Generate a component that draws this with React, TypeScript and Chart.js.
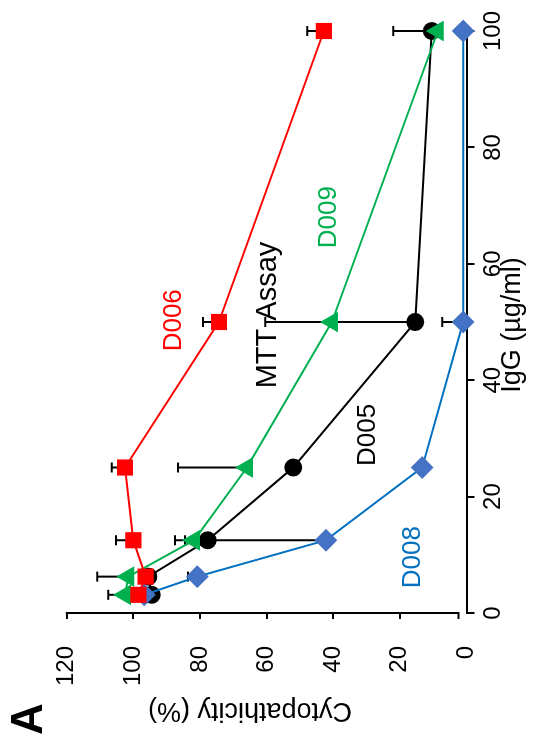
import React, { useEffect, useRef } from "react";
import { Chart, registerables } from "chart.js";

Chart.register(...registerables);

const FONT = '"Liberation Sans", Arial, Helvetica, sans-serif';

// IgG concentration (µg/ml)
const iggConc = [3.125, 6.25, 12.5, 25, 50, 100];

// Cytopathicity (%) per antibody
const d006 = [98.5, 96.3, 100, 102.5, 74.3, 42.8];
const d006Err = [0, 0, 5.2, 4, 4.8, 5];
const d008 = [96.7, 80.8, 42.2, 13.3, 1, 1];
const d008Err = [0, 2.8, 42.3, 0, 6.3, 0];
const d009 = [102.5, 101.5, 81.8, 65.9, 40.4, 8.6];
const d009Err = [5, 9.3, 5.7, 20.7, 0, 0];
const d005 = [94.5, 95.5, 77.7, 52, 15.4, 10.4];
const d005Err = [0, 0, 0, 1.8, 45, 11.6];

const seriesNames = ["D006", "D008", "D009", "D005"];

const xTickValues = [0, 20, 40, 60, 80, 100];
const yTickValues = [0, 20, 40, 60, 80, 100, 120];

const chartTitle = "MTT Assay";
const xTitle = "IgG (µg/ml)";
const yTitle = "Cytopathicity (%)";
const panelLetter = "A";

export default function App() {
  const ref = useRef<HTMLCanvasElement>(null);

  useEffect(() => {
    const canvas = ref.current;
    if (!canvas) return;

    const errSets = [d006Err, d008Err, d009Err, d005Err];
    const toPts = (arr: number[]) => arr.map((v, i) => ({ x: iggConc[i], y: v }));

    const labelAnchors = [
      { text: seriesNames[0], color: "#FF0000", x: 50.3, y: 87.8, size: 26 },
      { text: seriesNames[2], color: "#00B050", x: 68, y: 41.3, size: 26 },
      { text: seriesNames[3], color: "#000000", x: 30.6, y: 29.6, size: 26 },
      { text: seriesNames[1], color: "#0070C0", x: 9.6, y: 16, size: 26 },
      { text: chartTitle, color: "#000000", x: 51.2, y: 59.5, size: 29 },
    ];

    const errPlugin = {
      id: "errbars",
      beforeDatasetsDraw(chart: any) {
        const { ctx } = chart;
        const x = chart.scales.x;
        const y = chart.scales.y;
        ctx.save();
        ctx.strokeStyle = "#000";
        ctx.lineWidth = 2;
        chart.data.datasets.forEach((ds: any, di: number) => {
          const errs = errSets[di];
          ds.data.forEach((p: any, i: number) => {
            const e = errs[i];
            if (!e) return;
            const px = x.getPixelForValue(p.x);
            const y0 = y.getPixelForValue(p.y);
            const y1 = y.getPixelForValue(p.y + e);
            ctx.beginPath();
            ctx.moveTo(px, y0);
            ctx.lineTo(px, y1);
            ctx.moveTo(px - 5, y1);
            ctx.lineTo(px + 5, y1);
            ctx.stroke();
          });
        });
        ctx.restore();
      },
    };

    const decoPlugin = {
      id: "deco",
      afterDraw(chart: any) {
        const { ctx, chartArea } = chart;
        const x = chart.scales.x;
        const y = chart.scales.y;
        ctx.save();
        // y axis line (ends short of the corner, with its own end tick)
        const yb = y.getPixelForValue(0) - 8;
        ctx.strokeStyle = "#000";
        ctx.lineWidth = 2;
        ctx.beginPath();
        ctx.moveTo(chartArea.left, y.getPixelForValue(120) - 1);
        ctx.lineTo(chartArea.left, yb);
        ctx.lineTo(chartArea.left - 6, yb);
        ctx.stroke();

        ctx.textAlign = "center";
        ctx.textBaseline = "middle";
        labelAnchors.forEach((a) => {
          ctx.fillStyle = a.color;
          ctx.font = `${a.size}px ${FONT}`;
          ctx.fillText(a.text, x.getPixelForValue(a.x), y.getPixelForValue(a.y));
        });

        ctx.fillStyle = "#000";
        ctx.font = `27px ${FONT}`;
        ctx.fillText(xTitle, 424, 513);

        ctx.save();
        ctx.translate(39, 250);
        ctx.rotate(-Math.PI / 2);
        ctx.fillText(yTitle, 0, 0);
        ctx.restore();

        ctx.font = `bold 44px ${FONT}`;
        ctx.fillText(panelLetter, 30, 30);
        ctx.restore();
      },
    };

    const chart = new Chart(canvas, {
      type: "scatter",
      data: {
        datasets: [
          {
            label: seriesNames[0],
            data: toPts(d006),
            showLine: true,
            borderColor: "#FF0000",
            backgroundColor: "#FF0000",
            pointBackgroundColor: "#FF0000",
            pointBorderColor: "#FF0000",
            pointStyle: "rect",
            pointRadius: 10,
            borderWidth: 2,
            order: 1,
            clip: false,
          },
          {
            label: seriesNames[1],
            data: toPts(d008),
            showLine: true,
            borderColor: "#0070C0",
            backgroundColor: "#4472C4",
            pointBackgroundColor: "#4472C4",
            pointBorderColor: "#4472C4",
            pointStyle: "rectRot",
            pointRadius: 10,
            borderWidth: 2,
            order: 2,
            clip: false,
          },
          {
            label: seriesNames[2],
            data: toPts(d009),
            showLine: true,
            borderColor: "#00B050",
            backgroundColor: "#00B050",
            pointBackgroundColor: "#00B050",
            pointBorderColor: "#00B050",
            pointStyle: "triangle",
            pointRadius: 10,
            borderWidth: 2,
            order: 3,
            clip: false,
          },
          {
            label: seriesNames[3],
            data: toPts(d005),
            showLine: true,
            borderColor: "#000000",
            backgroundColor: "#000000",
            pointBackgroundColor: "#000000",
            pointBorderColor: "#000000",
            pointStyle: "circle",
            pointRadius: 8,
            borderWidth: 2,
            order: 4,
            clip: false,
          },
        ],
      },
      options: {
        animation: false,
        responsive: false,
        devicePixelRatio: 1,
        layout: { padding: { top: 66.7, right: 31, left: 0, bottom: 0 } },
        plugins: {
          legend: { display: false },
          tooltip: { enabled: false },
          title: { display: false },
        },
        scales: {
          x: {
            type: "linear",
            position: "bottom",
            min: 0,
            max: 100,
            afterBuildTicks: (s: any) => {
              s.ticks = xTickValues.map((v) => ({ value: v }));
            },
            afterFit: (s: any) => {
              s.height = 77.5;
            },
            grid: {
              drawOnChartArea: false,
              drawTicks: true,
              tickLength: 8,
              lineWidth: 2,
              color: "#000",
            },
            border: { display: true, color: "#000", width: 2 },
            ticks: {
              color: "#000",
              font: { family: FONT, size: 24 },
              padding: 4,
              maxRotation: 0,
              autoSkip: false,
            },
          },
          y: {
            type: "linear",
            min: 0,
            max: 120,
            afterBuildTicks: (s: any) => {
              s.ticks = yTickValues.map((v) => ({ value: v }));
            },
            afterFit: (s: any) => {
              s.width = 136;
            },
            grid: {
              drawOnChartArea: false,
              drawTicks: true,
              tickLength: 6,
              lineWidth: 2,
              color: (c: any) => (c.tick && c.tick.value === 0 ? "rgba(0,0,0,0)" : "#000"),
            },
            border: { display: false },
            ticks: {
              color: "#000",
              font: { family: FONT, size: 24 },
              padding: 27,
              autoSkip: false,
            },
          },
        },
      },
      plugins: [errPlugin, decoPlugin],
    } as any);

    return () => chart.destroy();
  }, []);

  return (
    <div
      style={{
        position: "fixed",
        left: 0,
        top: 0,
        width: 749,
        height: 544,
        transformOrigin: "0 0",
        transform: "translate(0px, 749px) rotate(-90deg)",
        background: "#fff",
      }}
    >
      <canvas ref={ref} width={749} height={544} style={{ display: "block", width: 749, height: 544 }} />
    </div>
  );
}
